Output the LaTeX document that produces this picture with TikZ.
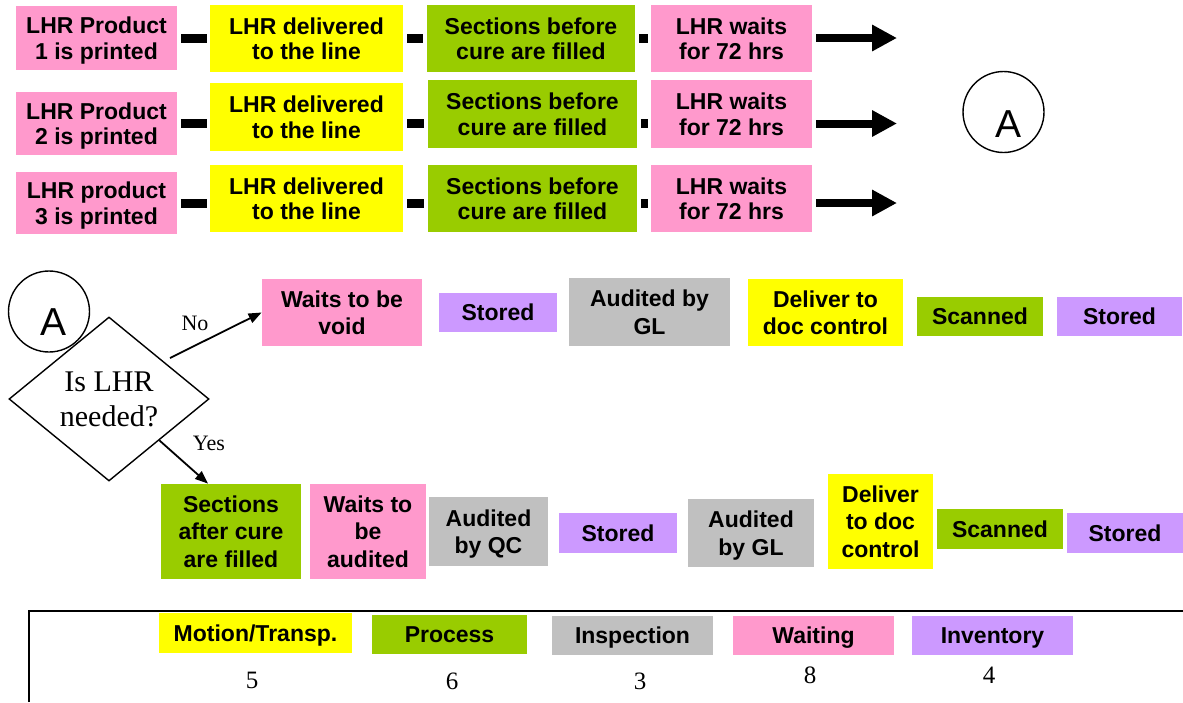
\documentclass[tikz,border=0pt]{standalone}
\usepackage{fontspec}
\setmainfont{Liberation Serif}
\setsansfont{Liberation Sans}
\usetikzlibrary{arrows.meta,shapes.geometric,calc}

\definecolor{cwait}{HTML}{FF99CC}
\definecolor{cmove}{HTML}{FFFF00}
\definecolor{cproc}{HTML}{99CC00}
\definecolor{cinsp}{HTML}{C0C0C0}
\definecolor{cinv}{HTML}{CC99FF}

% \stepnode{name}{style}{x0}{y0}{x1}{y1}{text}: filled box spanning two corners
\newcommand{\stepnode}[7]{%
  \node[stepbox,#2,minimum width={(#5-#3)*0.5pt},minimum height={(#6-#4)*0.5pt}]
    (#1) at ({(#3+#5)/2},{(#4+#6)/2}) {#7};}

\tikzset{
  stepbox/.style={draw=none,inner sep=0pt,align=center,text depth=0pt,
    font=\sffamily\bfseries\fontsize{11.5}{13.8}\selectfont},
  toprow/.style={font=\sffamily\bfseries\fontsize{11.5}{12.8}\selectfont},
  legendbox/.style={font=\sffamily\bfseries\fontsize{11.5}{13.8}\selectfont},
  bar/.style={line width=4.5pt,line cap=butt},
  bigarrow/.style={line width=4pt,line cap=butt,-{Triangle[length=12.5pt,width=12.5pt]}},
  thinarrow/.style={line width=0.9pt,-{Triangle[length=6.5pt,width=5pt]}},
  connector/.style={circle,draw,line width=0.7pt,minimum size=40.5pt,inner sep=0pt},
  connlabel/.style={font=\sffamily\fontsize{19.5}{20}\selectfont,inner sep=0pt},
  branchlabel/.style={font=\fontsize{11}{13}\selectfont,inner sep=0pt},
  countlabel/.style={font=\fontsize{12.5}{14}\selectfont,inner sep=0pt},
}

\begin{document}
\begin{tikzpicture}[x=0.5pt,y=-0.5pt]
\useasboundingbox (0,0) rectangle (1183,702);

% ---- three LHR product streams ----
\stepnode{p1}{fill=cwait,toprow}{16}{6}{177}{70}{LHR Product\\1 is printed}
\stepnode{d1}{fill=cmove,toprow}{210}{5}{403}{72}{LHR delivered\\to the line}
\stepnode{s1}{fill=cproc,toprow}{427}{5}{635}{72}{Sections before\\cure are filled}
\stepnode{w1}{fill=cwait,toprow}{651}{5}{812}{72}{LHR waits\\for 72 hrs}

\stepnode{p2}{fill=cwait,toprow}{16}{92}{177}{155}{LHR Product\\2 is printed}
\stepnode{d2}{fill=cmove,toprow}{210}{83}{403}{151}{LHR delivered\\to the line}
\stepnode{s2}{fill=cproc,toprow}{428}{80}{637}{148}{Sections before\\cure are filled}
\stepnode{w2}{fill=cwait,toprow}{651}{80}{812}{148}{LHR waits\\for 72 hrs}

\stepnode{p3}{fill=cwait,toprow}{16}{172}{177}{234}{LHR product\\3 is printed}
\stepnode{d3}{fill=cmove,toprow}{210}{165}{403}{232}{LHR delivered\\to the line}
\stepnode{s3}{fill=cproc,toprow}{428}{165}{637}{232}{Sections before\\cure are filled}
\stepnode{w3}{fill=cwait,toprow}{651}{165}{812}{232}{LHR waits\\for 72 hrs}

\coordinate (e1) at (897,38);
\coordinate (e2) at (897,123.5);
\coordinate (e3) at (897,203);

\foreach \r in {1,2,3} {
  \draw[bar] ([xshift=2pt]p\r.east) -- ([xshift=-1.5pt]d\r.west |- p\r.east);
  \draw[bar] ([xshift=2pt]d\r.east |- p\r.east) -- ([xshift=-2pt]s\r.west |- p\r.east);
  \draw[bar] ([xshift=2pt]s\r.east |- p\r.east) -- ([xshift=-1.5pt]w\r.west |- p\r.east);
  \draw[bigarrow] ([xshift=2pt]w\r.east |- p\r.east) -- (e\r);
}

% off-page connector
\node[connector] (ca1) at (1003.5,112) {};
\node[connlabel] (la1) at (1008,124) {A};

% ---- decision ----
\node[connector] (ca2) at (49,311.5) {};
\node[connlabel] (la2) at (54,322) {A};
\node[diamond,draw,line width=0.7pt,minimum width=100pt,minimum height=82pt,
      inner sep=0pt,shape aspect=1.2,align=center,
      font=\fontsize{15}{17.5}\selectfont] (q) at (109,399) {Is LHR\\needed?};

% not needed: void path
\stepnode{void}{fill=cwait}{262}{279}{422}{346}{Waits to be\\void}
\stepnode{st1}{fill=cinv}{439}{293}{557}{332}{Stored}
\stepnode{agl1}{fill=cinsp}{569}{278}{730}{346}{Audited by\\GL}
\stepnode{dlv1}{fill=cmove}{748}{279}{903}{346}{Deliver to\\doc control}
\stepnode{scn1}{fill=cproc}{917}{297}{1043}{336}{Scanned}
\stepnode{st2}{fill=cinv}{1057}{297}{1182}{336}{Stored}

% needed: completion path
\stepnode{sac}{fill=cproc}{161}{484}{301}{579}{Sections\\after cure\\are filled}
\stepnode{wta}{fill=cwait}{310}{484}{426}{579}{Waits to\\be\\audited}
\stepnode{aqc}{fill=cinsp}{429}{497}{548}{566}{Audited\\by QC}
\stepnode{st3}{fill=cinv}{559}{513}{677}{553}{Stored}
\stepnode{agl2}{fill=cinsp}{688}{499}{814}{567}{Audited\\by GL}
\stepnode{dlv2}{fill=cmove}{828}{474}{933}{569}{Deliver\\to doc\\control}
\stepnode{scn2}{fill=cproc}{937}{509}{1063}{549}{Scanned}
\stepnode{st4}{fill=cinv}{1067}{513}{1183}{553}{Stored}

\coordinate (nost) at (170,358);
\draw[thinarrow] (nost) -- (void.west);
\node[branchlabel] (lno) at (195,323) {No};
\draw[thinarrow] ($(q.south)!0.5!(q.east)$) -- ([xshift=-11.5pt]sac.north);
\node[branchlabel] (lyes) at (209,443) {Yes};

% ---- legend ----
\draw[line width=1pt] (29,702) -- (29,611) -- (1183,611);
\stepnode{lm}{fill=cmove,legendbox}{159}{613}{352}{653}{Motion/Transp.}
\stepnode{lp}{fill=cproc,legendbox}{372}{615}{527}{654}{Process}
\stepnode{li}{fill=cinsp,legendbox}{552}{616}{713}{655}{Inspection}
\stepnode{lw}{fill=cwait,legendbox}{733}{616}{894}{655}{Waiting}
\stepnode{lv}{fill=cinv,legendbox}{912}{616}{1073}{655}{Inventory}
\node[countlabel] (n5) at (252,680.5) {5};
\node[countlabel] (n6) at (452,681) {6};
\node[countlabel] (n3) at (640,681) {3};
\node[countlabel] (n8) at (810,675) {8};
\node[countlabel] (n4) at (989,675) {4};
\end{tikzpicture}
\end{document}
